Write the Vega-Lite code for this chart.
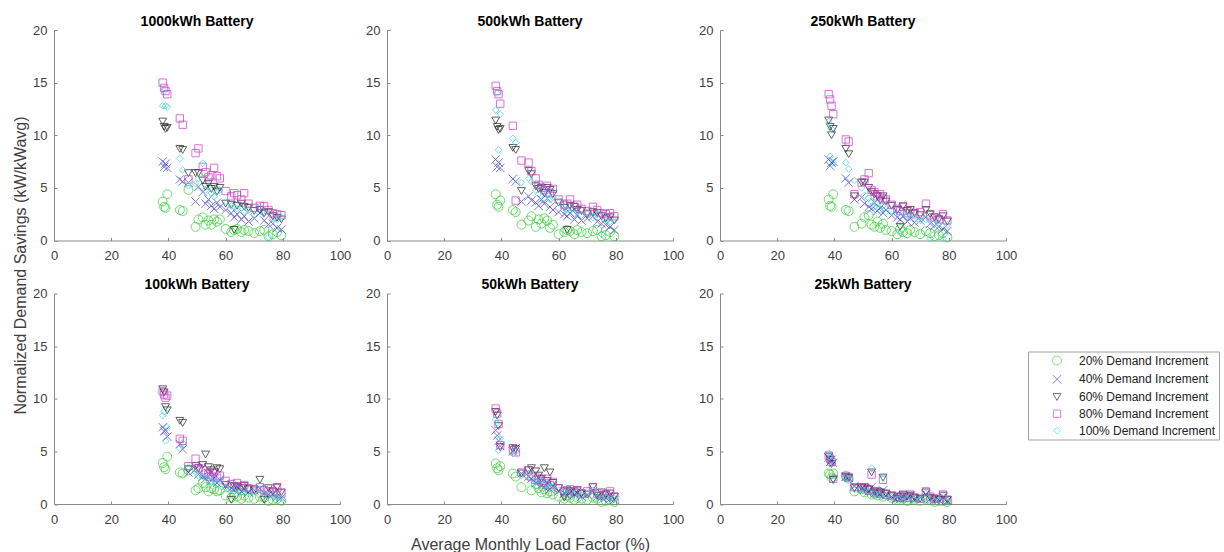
{
"$schema":"https://vega.github.io/schema/vega-lite/v6.json",
"padding":{"left":12,"top":14,"right":0,"bottom":0},
"datasets":{
"p1000":[
{"d":20,"x":38,"y":3.7},{"d":20,"x":38.5,"y":3.2},{"d":20,"x":39,"y":3.1},{"d":20,"x":39.6,"y":4.4},{"d":20,"x":44,"y":2.9},{"d":20,"x":45,"y":2.8},{"d":20,"x":47,"y":4.8},{"d":20,"x":49.5,"y":1.3},{"d":20,"x":50.5,"y":2.0},{"d":20,"x":52,"y":2.2},{"d":20,"x":53,"y":1.5},{"d":20,"x":54,"y":1.9},{"d":20,"x":55,"y":1.5},{"d":20,"x":56,"y":2.0},{"d":20,"x":57,"y":1.8},{"d":20,"x":58,"y":2.0},{"d":20,"x":60,"y":1.1},{"d":20,"x":62,"y":0.8},{"d":20,"x":63,"y":1.0},{"d":20,"x":64,"y":1.1},{"d":20,"x":65.5,"y":0.8},{"d":20,"x":66.5,"y":1.0},{"d":20,"x":68,"y":0.9},{"d":20,"x":70,"y":0.7},{"d":20,"x":72,"y":0.9},{"d":20,"x":73.5,"y":1.0},{"d":20,"x":75,"y":0.4},{"d":20,"x":76.5,"y":0.6},{"d":20,"x":78,"y":0.8},{"d":20,"x":79.5,"y":0.5},
{"d":40,"x":38,"y":7.5},{"d":40,"x":38.5,"y":7.0},{"d":40,"x":39,"y":7.3},{"d":40,"x":39.6,"y":6.9},{"d":40,"x":44,"y":5.8},{"d":40,"x":45,"y":5.6},{"d":40,"x":47,"y":5.5},{"d":40,"x":49.5,"y":3.7},{"d":40,"x":50.5,"y":5.1},{"d":40,"x":52,"y":4.6},{"d":40,"x":53,"y":3.5},{"d":40,"x":54,"y":3.9},{"d":40,"x":55,"y":3.3},{"d":40,"x":56,"y":3.0},{"d":40,"x":57,"y":3.6},{"d":40,"x":58,"y":3.2},{"d":40,"x":60,"y":2.9},{"d":40,"x":62,"y":2.6},{"d":40,"x":63,"y":2.2},{"d":40,"x":64,"y":2.5},{"d":40,"x":65.5,"y":2.0},{"d":40,"x":66.5,"y":2.3},{"d":40,"x":68,"y":1.8},{"d":40,"x":70,"y":2.1},{"d":40,"x":72,"y":2.6},{"d":40,"x":73.5,"y":1.9},{"d":40,"x":75,"y":1.5},{"d":40,"x":76.5,"y":1.6},{"d":40,"x":78,"y":1.2},{"d":40,"x":79.5,"y":1.05},
{"d":60,"x":38,"y":11.3},{"d":60,"x":38.5,"y":10.8},{"d":60,"x":39,"y":10.6},{"d":60,"x":39.6,"y":10.7},{"d":60,"x":44,"y":8.7},{"d":60,"x":45,"y":8.6},{"d":60,"x":47,"y":6.4},{"d":60,"x":49.5,"y":6.4},{"d":60,"x":50.5,"y":6.4},{"d":60,"x":52,"y":5.7},{"d":60,"x":53,"y":5.1},{"d":60,"x":54,"y":5.4},{"d":60,"x":55,"y":4.9},{"d":60,"x":56,"y":5.1},{"d":60,"x":57,"y":4.65},{"d":60,"x":58,"y":5.0},{"d":60,"x":60,"y":3.5},{"d":60,"x":62,"y":3.4},{"d":60,"x":63,"y":1.0},{"d":60,"x":64,"y":3.3},{"d":60,"x":65.5,"y":3.5},{"d":60,"x":66.5,"y":3.2},{"d":60,"x":68,"y":3.1},{"d":60,"x":70,"y":2.8},{"d":60,"x":72,"y":2.9},{"d":60,"x":73.5,"y":2.6},{"d":60,"x":75,"y":2.7},{"d":60,"x":76.5,"y":2.3},{"d":60,"x":78,"y":2.15},{"d":60,"x":79.5,"y":2.0},
{"d":80,"x":38,"y":15.0},{"d":80,"x":38.5,"y":14.5},{"d":80,"x":39,"y":14.2},{"d":80,"x":39.6,"y":13.9},{"d":80,"x":44,"y":11.6},{"d":80,"x":45,"y":11.0},{"d":80,"x":47,"y":5.8},{"d":80,"x":49.5,"y":8.3},{"d":80,"x":50.5,"y":8.75},{"d":80,"x":52,"y":7.0},{"d":80,"x":53,"y":6.5},{"d":80,"x":54,"y":6.0},{"d":80,"x":55,"y":6.2},{"d":80,"x":56,"y":6.9},{"d":80,"x":57,"y":6.1},{"d":80,"x":58,"y":5.9},{"d":80,"x":60,"y":4.7},{"d":80,"x":62,"y":4.2},{"d":80,"x":63,"y":4.5},{"d":80,"x":64,"y":4.3},{"d":80,"x":65.5,"y":3.9},{"d":80,"x":66.5,"y":4.5},{"d":80,"x":68,"y":3.5},{"d":80,"x":70,"y":3.1},{"d":80,"x":72,"y":3.3},{"d":80,"x":73.5,"y":3.25},{"d":80,"x":75,"y":2.9},{"d":80,"x":76.5,"y":2.6},{"d":80,"x":78,"y":2.5},{"d":80,"x":79.5,"y":2.4},
{"d":100,"x":38,"y":12.8},{"d":100,"x":38.5,"y":14.2},{"d":100,"x":39,"y":12.8},{"d":100,"x":39.6,"y":12.7},{"d":100,"x":44,"y":7.8},{"d":100,"x":45,"y":6.7},{"d":100,"x":47,"y":5.2},{"d":100,"x":49.5,"y":5.4},{"d":100,"x":50.5,"y":5.9},{"d":100,"x":52,"y":7.35},{"d":100,"x":53,"y":4.8},{"d":100,"x":54,"y":5.1},{"d":100,"x":55,"y":4.5},{"d":100,"x":56,"y":4.2},{"d":100,"x":57,"y":4.6},{"d":100,"x":58,"y":4.8},{"d":100,"x":60,"y":3.7},{"d":100,"x":62,"y":3.3},{"d":100,"x":63,"y":3.2},{"d":100,"x":64,"y":3.0},{"d":100,"x":65.5,"y":3.1},{"d":100,"x":66.5,"y":2.7},{"d":100,"x":68,"y":2.9},{"d":100,"x":70,"y":2.5},{"d":100,"x":72,"y":3.2},{"d":100,"x":73.5,"y":2.6},{"d":100,"x":75,"y":0.3},{"d":100,"x":76.5,"y":2.1},{"d":100,"x":78,"y":2.0},{"d":100,"x":79.5,"y":2.2}
],
"p500":[
{"d":20,"x":38,"y":4.4},{"d":20,"x":38.5,"y":3.4},{"d":20,"x":39,"y":3.2},{"d":20,"x":39.6,"y":3.8},{"d":20,"x":44,"y":2.9},{"d":20,"x":45,"y":2.7},{"d":20,"x":47,"y":1.5},{"d":20,"x":49.5,"y":1.9},{"d":20,"x":50.5,"y":2.3},{"d":20,"x":52,"y":1.3},{"d":20,"x":53,"y":2.0},{"d":20,"x":54,"y":1.6},{"d":20,"x":55,"y":2.1},{"d":20,"x":56,"y":1.9},{"d":20,"x":57,"y":1.2},{"d":20,"x":58,"y":1.5},{"d":20,"x":60,"y":0.6},{"d":20,"x":62,"y":0.8},{"d":20,"x":63,"y":1.0},{"d":20,"x":64,"y":0.9},{"d":20,"x":65.5,"y":0.6},{"d":20,"x":66.5,"y":1.0},{"d":20,"x":68,"y":0.8},{"d":20,"x":70,"y":0.7},{"d":20,"x":72,"y":0.9},{"d":20,"x":73.5,"y":1.0},{"d":20,"x":75,"y":0.4},{"d":20,"x":76.5,"y":0.5},{"d":20,"x":78,"y":0.8},{"d":20,"x":79.5,"y":0.4},
{"d":40,"x":38,"y":7.7},{"d":40,"x":38.5,"y":7.0},{"d":40,"x":39,"y":7.4},{"d":40,"x":39.6,"y":6.9},{"d":40,"x":44,"y":5.85},{"d":40,"x":45,"y":5.6},{"d":40,"x":47,"y":3.7},{"d":40,"x":49.5,"y":4.2},{"d":40,"x":50.5,"y":3.8},{"d":40,"x":52,"y":3.6},{"d":40,"x":53,"y":3.3},{"d":40,"x":54,"y":3.9},{"d":40,"x":55,"y":3.5},{"d":40,"x":56,"y":4.0},{"d":40,"x":57,"y":3.2},{"d":40,"x":58,"y":2.9},{"d":40,"x":60,"y":2.7},{"d":40,"x":62,"y":2.5},{"d":40,"x":63,"y":2.3},{"d":40,"x":64,"y":2.6},{"d":40,"x":65.5,"y":2.0},{"d":40,"x":66.5,"y":2.4},{"d":40,"x":68,"y":1.9},{"d":40,"x":70,"y":2.1},{"d":40,"x":72,"y":2.3},{"d":40,"x":73.5,"y":1.8},{"d":40,"x":75,"y":1.6},{"d":40,"x":76.5,"y":1.5},{"d":40,"x":78,"y":1.3},{"d":40,"x":79.5,"y":1.0},
{"d":60,"x":38,"y":11.4},{"d":60,"x":38.5,"y":10.8},{"d":60,"x":39,"y":10.5},{"d":60,"x":39.6,"y":10.6},{"d":60,"x":44,"y":8.8},{"d":60,"x":45,"y":8.6},{"d":60,"x":47,"y":4.7},{"d":60,"x":49.5,"y":6.6},{"d":60,"x":50.5,"y":6.3},{"d":60,"x":52,"y":5.15},{"d":60,"x":53,"y":4.9},{"d":60,"x":54,"y":5.0},{"d":60,"x":55,"y":4.5},{"d":60,"x":56,"y":5.0},{"d":60,"x":57,"y":4.8},{"d":60,"x":58,"y":4.4},{"d":60,"x":60,"y":3.6},{"d":60,"x":62,"y":3.1},{"d":60,"x":63,"y":1.0},{"d":60,"x":64,"y":3.3},{"d":60,"x":65.5,"y":3.2},{"d":60,"x":66.5,"y":2.9},{"d":60,"x":68,"y":2.8},{"d":60,"x":70,"y":2.5},{"d":60,"x":72,"y":2.7},{"d":60,"x":73.5,"y":2.6},{"d":60,"x":75,"y":2.3},{"d":60,"x":76.5,"y":2.1},{"d":60,"x":78,"y":2.2},{"d":60,"x":79.5,"y":1.9},
{"d":80,"x":38,"y":14.7},{"d":80,"x":38.5,"y":14.2},{"d":80,"x":39,"y":13.9},{"d":80,"x":39.6,"y":13.0},{"d":80,"x":44,"y":10.9},{"d":80,"x":45,"y":3.8},{"d":80,"x":47,"y":7.6},{"d":80,"x":49.5,"y":7.4},{"d":80,"x":50.5,"y":6.6},{"d":80,"x":52,"y":5.9},{"d":80,"x":53,"y":5.3},{"d":80,"x":54,"y":5.0},{"d":80,"x":55,"y":4.8},{"d":80,"x":56,"y":5.2},{"d":80,"x":57,"y":4.5},{"d":80,"x":58,"y":4.9},{"d":80,"x":60,"y":3.9},{"d":80,"x":62,"y":3.4},{"d":80,"x":63,"y":3.5},{"d":80,"x":64,"y":3.9},{"d":80,"x":65.5,"y":3.2},{"d":80,"x":66.5,"y":3.4},{"d":80,"x":68,"y":3.0},{"d":80,"x":70,"y":2.8},{"d":80,"x":72,"y":3.2},{"d":80,"x":73.5,"y":2.9},{"d":80,"x":75,"y":2.6},{"d":80,"x":76.5,"y":2.5},{"d":80,"x":78,"y":2.6},{"d":80,"x":79.5,"y":2.3},
{"d":100,"x":38,"y":12.4},{"d":100,"x":38.5,"y":14.0},{"d":100,"x":39,"y":8.6},{"d":100,"x":39.6,"y":12.0},{"d":100,"x":44,"y":9.7},{"d":100,"x":45,"y":9.3},{"d":100,"x":47,"y":5.5},{"d":100,"x":49.5,"y":5.9},{"d":100,"x":50.5,"y":5.6},{"d":100,"x":52,"y":4.8},{"d":100,"x":53,"y":4.4},{"d":100,"x":54,"y":5.2},{"d":100,"x":55,"y":4.0},{"d":100,"x":56,"y":4.5},{"d":100,"x":57,"y":3.9},{"d":100,"x":58,"y":4.1},{"d":100,"x":60,"y":3.6},{"d":100,"x":62,"y":3.2},{"d":100,"x":63,"y":2.9},{"d":100,"x":64,"y":3.1},{"d":100,"x":65.5,"y":2.6},{"d":100,"x":66.5,"y":2.8},{"d":100,"x":68,"y":2.4},{"d":100,"x":70,"y":2.7},{"d":100,"x":72,"y":2.2},{"d":100,"x":73.5,"y":2.5},{"d":100,"x":75,"y":0.6},{"d":100,"x":76.5,"y":2.0},{"d":100,"x":78,"y":1.8},{"d":100,"x":79.5,"y":1.9}
],
"p250":[
{"d":20,"x":38,"y":3.9},{"d":20,"x":38.5,"y":3.3},{"d":20,"x":39,"y":3.2},{"d":20,"x":39.6,"y":4.4},{"d":20,"x":44,"y":2.9},{"d":20,"x":45,"y":2.8},{"d":20,"x":47,"y":1.3},{"d":20,"x":49.5,"y":1.6},{"d":20,"x":50.5,"y":2.2},{"d":20,"x":52,"y":2.4},{"d":20,"x":53,"y":1.5},{"d":20,"x":54,"y":1.3},{"d":20,"x":55,"y":1.8},{"d":20,"x":56,"y":1.2},{"d":20,"x":57,"y":1.6},{"d":20,"x":58,"y":1.0},{"d":20,"x":60,"y":0.9},{"d":20,"x":62,"y":0.6},{"d":20,"x":63,"y":1.1},{"d":20,"x":64,"y":0.8},{"d":20,"x":65.5,"y":0.7},{"d":20,"x":66.5,"y":1.0},{"d":20,"x":68,"y":0.8},{"d":20,"x":70,"y":0.6},{"d":20,"x":72,"y":0.9},{"d":20,"x":73.5,"y":0.7},{"d":20,"x":75,"y":0.4},{"d":20,"x":76.5,"y":0.5},{"d":20,"x":78,"y":0.7},{"d":20,"x":79.5,"y":0.3},
{"d":40,"x":38,"y":7.7},{"d":40,"x":38.5,"y":7.1},{"d":40,"x":39,"y":7.4},{"d":40,"x":39.6,"y":7.5},{"d":40,"x":44,"y":5.9},{"d":40,"x":45,"y":5.5},{"d":40,"x":47,"y":3.9},{"d":40,"x":49.5,"y":4.1},{"d":40,"x":50.5,"y":3.5},{"d":40,"x":52,"y":3.2},{"d":40,"x":53,"y":3.0},{"d":40,"x":54,"y":3.6},{"d":40,"x":55,"y":2.8},{"d":40,"x":56,"y":3.1},{"d":40,"x":57,"y":2.6},{"d":40,"x":58,"y":2.9},{"d":40,"x":60,"y":2.4},{"d":40,"x":62,"y":2.2},{"d":40,"x":63,"y":2.0},{"d":40,"x":64,"y":2.3},{"d":40,"x":65.5,"y":1.8},{"d":40,"x":66.5,"y":2.1},{"d":40,"x":68,"y":1.7},{"d":40,"x":70,"y":1.9},{"d":40,"x":72,"y":2.2},{"d":40,"x":73.5,"y":1.6},{"d":40,"x":75,"y":1.4},{"d":40,"x":76.5,"y":1.3},{"d":40,"x":78,"y":1.1},{"d":40,"x":79.5,"y":0.9},
{"d":60,"x":38,"y":11.4},{"d":60,"x":38.5,"y":10.8},{"d":60,"x":39,"y":10.0},{"d":60,"x":39.6,"y":10.6},{"d":60,"x":44,"y":8.7},{"d":60,"x":45,"y":8.2},{"d":60,"x":47,"y":4.2},{"d":60,"x":49.5,"y":5.5},{"d":60,"x":50.5,"y":5.5},{"d":60,"x":52,"y":5.0},{"d":60,"x":53,"y":4.6},{"d":60,"x":54,"y":4.4},{"d":60,"x":55,"y":4.2},{"d":60,"x":56,"y":3.8},{"d":60,"x":57,"y":4.2},{"d":60,"x":58,"y":3.7},{"d":60,"x":60,"y":3.3},{"d":60,"x":62,"y":2.9},{"d":60,"x":63,"y":1.3},{"d":60,"x":64,"y":3.25},{"d":60,"x":65.5,"y":2.8},{"d":60,"x":66.5,"y":2.9},{"d":60,"x":68,"y":2.6},{"d":60,"x":70,"y":2.4},{"d":60,"x":72,"y":2.9},{"d":60,"x":73.5,"y":2.5},{"d":60,"x":75,"y":2.2},{"d":60,"x":76.5,"y":2.0},{"d":60,"x":78,"y":2.3},{"d":60,"x":79.5,"y":1.8},
{"d":80,"x":38,"y":13.9},{"d":80,"x":38.5,"y":13.4},{"d":80,"x":39,"y":12.8},{"d":80,"x":39.6,"y":12.0},{"d":80,"x":44,"y":9.6},{"d":80,"x":45,"y":9.4},{"d":80,"x":47,"y":4.4},{"d":80,"x":49.5,"y":5.5},{"d":80,"x":50.5,"y":5.8},{"d":80,"x":52,"y":6.4},{"d":80,"x":53,"y":4.8},{"d":80,"x":54,"y":4.6},{"d":80,"x":55,"y":4.2},{"d":80,"x":56,"y":4.4},{"d":80,"x":57,"y":4.0},{"d":80,"x":58,"y":3.9},{"d":80,"x":60,"y":3.4},{"d":80,"x":62,"y":3.0},{"d":80,"x":63,"y":2.8},{"d":80,"x":64,"y":3.2},{"d":80,"x":65.5,"y":2.6},{"d":80,"x":66.5,"y":2.9},{"d":80,"x":68,"y":2.5},{"d":80,"x":70,"y":2.7},{"d":80,"x":72,"y":3.5},{"d":80,"x":73.5,"y":2.4},{"d":80,"x":75,"y":2.2},{"d":80,"x":76.5,"y":2.0},{"d":80,"x":78,"y":2.5},{"d":80,"x":79.5,"y":1.9},
{"d":100,"x":38,"y":11.3},{"d":100,"x":38.5,"y":8.0},{"d":100,"x":39,"y":10.6},{"d":100,"x":39.6,"y":7.4},{"d":100,"x":44,"y":7.4},{"d":100,"x":45,"y":6.8},{"d":100,"x":47,"y":5.7},{"d":100,"x":49.5,"y":5.0},{"d":100,"x":50.5,"y":4.3},{"d":100,"x":52,"y":4.0},{"d":100,"x":53,"y":3.7},{"d":100,"x":54,"y":3.2},{"d":100,"x":55,"y":3.5},{"d":100,"x":56,"y":2.9},{"d":100,"x":57,"y":3.3},{"d":100,"x":58,"y":2.7},{"d":100,"x":60,"y":2.8},{"d":100,"x":62,"y":2.5},{"d":100,"x":63,"y":0.7},{"d":100,"x":64,"y":2.6},{"d":100,"x":65.5,"y":2.3},{"d":100,"x":66.5,"y":2.2},{"d":100,"x":68,"y":2.1},{"d":100,"x":70,"y":1.9},{"d":100,"x":72,"y":2.0},{"d":100,"x":73.5,"y":0.2},{"d":100,"x":75,"y":1.7},{"d":100,"x":76.5,"y":1.6},{"d":100,"x":78,"y":0.2},{"d":100,"x":79.5,"y":1.5}
],
"p100":[
{"d":20,"x":38,"y":3.9},{"d":20,"x":38.5,"y":3.5},{"d":20,"x":39,"y":3.3},{"d":20,"x":39.6,"y":4.5},{"d":20,"x":44,"y":3.0},{"d":20,"x":45,"y":2.9},{"d":20,"x":47,"y":3.2},{"d":20,"x":49.5,"y":1.3},{"d":20,"x":50.5,"y":1.5},{"d":20,"x":52,"y":2.0},{"d":20,"x":53,"y":1.6},{"d":20,"x":54,"y":1.2},{"d":20,"x":55,"y":1.5},{"d":20,"x":56,"y":1.4},{"d":20,"x":57,"y":1.2},{"d":20,"x":58,"y":1.3},{"d":20,"x":60,"y":0.8},{"d":20,"x":62,"y":0.6},{"d":20,"x":63,"y":0.9},{"d":20,"x":64,"y":0.7},{"d":20,"x":65.5,"y":0.5},{"d":20,"x":66.5,"y":0.8},{"d":20,"x":68,"y":0.6},{"d":20,"x":70,"y":0.5},{"d":20,"x":72,"y":0.7},{"d":20,"x":73.5,"y":0.6},{"d":20,"x":75,"y":0.3},{"d":20,"x":76.5,"y":0.4},{"d":20,"x":78,"y":0.5},{"d":20,"x":79.5,"y":0.3},
{"d":40,"x":38,"y":7.3},{"d":40,"x":38.5,"y":6.9},{"d":40,"x":39,"y":7.0},{"d":40,"x":39.6,"y":6.4},{"d":40,"x":44,"y":5.7},{"d":40,"x":45,"y":5.2},{"d":40,"x":47,"y":3.0},{"d":40,"x":49.5,"y":3.3},{"d":40,"x":50.5,"y":2.8},{"d":40,"x":52,"y":2.6},{"d":40,"x":53,"y":2.4},{"d":40,"x":54,"y":2.9},{"d":40,"x":55,"y":2.2},{"d":40,"x":56,"y":2.5},{"d":40,"x":57,"y":2.0},{"d":40,"x":58,"y":2.3},{"d":40,"x":60,"y":1.7},{"d":40,"x":62,"y":1.5},{"d":40,"x":63,"y":1.3},{"d":40,"x":64,"y":1.6},{"d":40,"x":65.5,"y":1.2},{"d":40,"x":66.5,"y":1.4},{"d":40,"x":68,"y":1.1},{"d":40,"x":70,"y":1.3},{"d":40,"x":72,"y":1.5},{"d":40,"x":73.5,"y":1.0},{"d":40,"x":75,"y":0.9},{"d":40,"x":76.5,"y":0.9},{"d":40,"x":78,"y":0.7},{"d":40,"x":79.5,"y":0.6},
{"d":60,"x":38,"y":10.9},{"d":60,"x":38.5,"y":10.6},{"d":60,"x":39,"y":9.2},{"d":60,"x":39.6,"y":8.9},{"d":60,"x":44,"y":7.9},{"d":60,"x":45,"y":7.7},{"d":60,"x":47,"y":3.3},{"d":60,"x":49.5,"y":3.6},{"d":60,"x":50.5,"y":3.4},{"d":60,"x":52,"y":3.7},{"d":60,"x":53,"y":4.7},{"d":60,"x":54,"y":3.5},{"d":60,"x":55,"y":3.2},{"d":60,"x":56,"y":3.0},{"d":60,"x":57,"y":3.4},{"d":60,"x":58,"y":3.3},{"d":60,"x":60,"y":1.8},{"d":60,"x":62,"y":0.4},{"d":60,"x":63,"y":1.7},{"d":60,"x":64,"y":1.6},{"d":60,"x":65.5,"y":1.5},{"d":60,"x":66.5,"y":1.7},{"d":60,"x":68,"y":1.4},{"d":60,"x":70,"y":1.3},{"d":60,"x":72,"y":2.3},{"d":60,"x":73.5,"y":0.4},{"d":60,"x":75,"y":1.5},{"d":60,"x":76.5,"y":1.2},{"d":60,"x":78,"y":1.6},{"d":60,"x":79.5,"y":1.1},
{"d":80,"x":38,"y":10.7},{"d":80,"x":38.5,"y":10.4},{"d":80,"x":39,"y":10.1},{"d":80,"x":39.6,"y":10.3},{"d":80,"x":44,"y":6.2},{"d":80,"x":45,"y":6.0},{"d":80,"x":47,"y":3.6},{"d":80,"x":49.5,"y":4.3},{"d":80,"x":50.5,"y":3.4},{"d":80,"x":52,"y":3.2},{"d":80,"x":53,"y":2.9},{"d":80,"x":54,"y":2.8},{"d":80,"x":55,"y":2.6},{"d":80,"x":56,"y":3.0},{"d":80,"x":57,"y":2.5},{"d":80,"x":58,"y":2.7},{"d":80,"x":60,"y":2.2},{"d":80,"x":62,"y":1.9},{"d":80,"x":63,"y":1.6},{"d":80,"x":64,"y":2.0},{"d":80,"x":65.5,"y":1.7},{"d":80,"x":66.5,"y":1.8},{"d":80,"x":68,"y":1.5},{"d":80,"x":70,"y":1.4},{"d":80,"x":72,"y":1.6},{"d":80,"x":73.5,"y":1.3},{"d":80,"x":75,"y":1.2},{"d":80,"x":76.5,"y":1.1},{"d":80,"x":78,"y":1.5},{"d":80,"x":79.5,"y":1.0},
{"d":100,"x":38,"y":8.4},{"d":100,"x":38.5,"y":8.8},{"d":100,"x":39,"y":6.0},{"d":100,"x":39.6,"y":7.3},{"d":100,"x":44,"y":5.3},{"d":100,"x":45,"y":5.8},{"d":100,"x":47,"y":3.5},{"d":100,"x":49.5,"y":3.0},{"d":100,"x":50.5,"y":2.7},{"d":100,"x":52,"y":2.6},{"d":100,"x":53,"y":2.5},{"d":100,"x":54,"y":2.3},{"d":100,"x":55,"y":2.1},{"d":100,"x":56,"y":2.4},{"d":100,"x":57,"y":1.9},{"d":100,"x":58,"y":2.2},{"d":100,"x":60,"y":1.6},{"d":100,"x":62,"y":1.4},{"d":100,"x":63,"y":1.2},{"d":100,"x":64,"y":1.5},{"d":100,"x":65.5,"y":1.1},{"d":100,"x":66.5,"y":1.3},{"d":100,"x":68,"y":1.0},{"d":100,"x":70,"y":1.2},{"d":100,"x":72,"y":1.4},{"d":100,"x":73.5,"y":0.9},{"d":100,"x":75,"y":0.8},{"d":100,"x":76.5,"y":0.8},{"d":100,"x":78,"y":0.6},{"d":100,"x":79.5,"y":0.5}
],
"p50":[
{"d":20,"x":38,"y":3.85},{"d":20,"x":38.5,"y":3.4},{"d":20,"x":39,"y":3.2},{"d":20,"x":39.6,"y":3.6},{"d":20,"x":44,"y":2.9},{"d":20,"x":45,"y":2.6},{"d":20,"x":47,"y":1.6},{"d":20,"x":49.5,"y":2.7},{"d":20,"x":50.5,"y":1.3},{"d":20,"x":52,"y":1.9},{"d":20,"x":53,"y":1.5},{"d":20,"x":54,"y":1.1},{"d":20,"x":55,"y":1.4},{"d":20,"x":56,"y":1.0},{"d":20,"x":57,"y":1.2},{"d":20,"x":58,"y":0.9},{"d":20,"x":60,"y":0.7},{"d":20,"x":62,"y":0.5},{"d":20,"x":63,"y":0.8},{"d":20,"x":64,"y":0.6},{"d":20,"x":65.5,"y":0.4},{"d":20,"x":66.5,"y":0.6},{"d":20,"x":68,"y":0.5},{"d":20,"x":70,"y":0.4},{"d":20,"x":72,"y":0.6},{"d":20,"x":73.5,"y":0.5},{"d":20,"x":75,"y":0.2},{"d":20,"x":76.5,"y":0.3},{"d":20,"x":78,"y":0.4},{"d":20,"x":79.5,"y":0.2},
{"d":40,"x":38,"y":7.0},{"d":40,"x":38.5,"y":6.5},{"d":40,"x":39,"y":6.0},{"d":40,"x":39.6,"y":5.5},{"d":40,"x":44,"y":5.0},{"d":40,"x":45,"y":5.3},{"d":40,"x":47,"y":2.9},{"d":40,"x":49.5,"y":2.6},{"d":40,"x":50.5,"y":2.4},{"d":40,"x":52,"y":2.0},{"d":40,"x":53,"y":2.2},{"d":40,"x":54,"y":1.8},{"d":40,"x":55,"y":1.6},{"d":40,"x":56,"y":2.0},{"d":40,"x":57,"y":1.4},{"d":40,"x":58,"y":1.7},{"d":40,"x":60,"y":1.2},{"d":40,"x":62,"y":1.0},{"d":40,"x":63,"y":0.8},{"d":40,"x":64,"y":1.1},{"d":40,"x":65.5,"y":0.9},{"d":40,"x":66.5,"y":1.0},{"d":40,"x":68,"y":0.7},{"d":40,"x":70,"y":0.9},{"d":40,"x":72,"y":1.2},{"d":40,"x":73.5,"y":0.7},{"d":40,"x":75,"y":0.6},{"d":40,"x":76.5,"y":0.6},{"d":40,"x":78,"y":0.5},{"d":40,"x":79.5,"y":0.4},
{"d":60,"x":38,"y":8.75},{"d":60,"x":38.5,"y":8.4},{"d":60,"x":39,"y":7.4},{"d":60,"x":39.6,"y":5.4},{"d":60,"x":44,"y":5.3},{"d":60,"x":45,"y":5.2},{"d":60,"x":47,"y":2.9},{"d":60,"x":49.5,"y":3.2},{"d":60,"x":50.5,"y":3.4},{"d":60,"x":52,"y":3.1},{"d":60,"x":53,"y":2.7},{"d":60,"x":54,"y":2.4},{"d":60,"x":55,"y":3.4},{"d":60,"x":56,"y":2.2},{"d":60,"x":57,"y":3.0},{"d":60,"x":58,"y":2.0},{"d":60,"x":60,"y":1.5},{"d":60,"x":62,"y":0.6},{"d":60,"x":63,"y":1.3},{"d":60,"x":64,"y":1.2},{"d":60,"x":65.5,"y":1.1},{"d":60,"x":66.5,"y":1.3},{"d":60,"x":68,"y":1.0},{"d":60,"x":70,"y":0.9},{"d":60,"x":72,"y":1.6},{"d":60,"x":73.5,"y":0.8},{"d":60,"x":75,"y":1.1},{"d":60,"x":76.5,"y":0.9},{"d":60,"x":78,"y":1.0},{"d":60,"x":79.5,"y":0.7},
{"d":80,"x":38,"y":9.07},{"d":80,"x":38.5,"y":8.6},{"d":80,"x":39,"y":7.6},{"d":80,"x":39.6,"y":5.6},{"d":80,"x":44,"y":5.1},{"d":80,"x":45,"y":4.9},{"d":80,"x":47,"y":3.0},{"d":80,"x":49.5,"y":3.2},{"d":80,"x":50.5,"y":2.6},{"d":80,"x":52,"y":2.3},{"d":80,"x":53,"y":2.5},{"d":80,"x":54,"y":2.2},{"d":80,"x":55,"y":2.0},{"d":80,"x":56,"y":2.4},{"d":80,"x":57,"y":1.8},{"d":80,"x":58,"y":2.1},{"d":80,"x":60,"y":1.5},{"d":80,"x":62,"y":1.2},{"d":80,"x":63,"y":1.1},{"d":80,"x":64,"y":1.4},{"d":80,"x":65.5,"y":1.2},{"d":80,"x":66.5,"y":1.3},{"d":80,"x":68,"y":1.0},{"d":80,"x":70,"y":1.2},{"d":80,"x":72,"y":1.6},{"d":80,"x":73.5,"y":1.0},{"d":80,"x":75,"y":0.8},{"d":80,"x":76.5,"y":0.9},{"d":80,"x":78,"y":1.2},{"d":80,"x":79.5,"y":0.7},
{"d":100,"x":38,"y":8.0},{"d":100,"x":38.5,"y":7.7},{"d":100,"x":39,"y":5.1},{"d":100,"x":39.6,"y":6.2},{"d":100,"x":44,"y":4.8},{"d":100,"x":45,"y":5.0},{"d":100,"x":47,"y":2.7},{"d":100,"x":49.5,"y":2.9},{"d":100,"x":50.5,"y":2.5},{"d":100,"x":52,"y":2.2},{"d":100,"x":53,"y":2.0},{"d":100,"x":54,"y":2.3},{"d":100,"x":55,"y":1.8},{"d":100,"x":56,"y":1.9},{"d":100,"x":57,"y":1.6},{"d":100,"x":58,"y":1.7},{"d":100,"x":60,"y":1.3},{"d":100,"x":62,"y":1.1},{"d":100,"x":63,"y":1.0},{"d":100,"x":64,"y":1.2},{"d":100,"x":65.5,"y":0.9},{"d":100,"x":66.5,"y":1.1},{"d":100,"x":68,"y":0.8},{"d":100,"x":70,"y":1.0},{"d":100,"x":72,"y":1.3},{"d":100,"x":73.5,"y":0.7},{"d":100,"x":75,"y":0.6},{"d":100,"x":76.5,"y":0.7},{"d":100,"x":78,"y":0.6},{"d":100,"x":79.5,"y":0.5}
],
"p25":[
{"d":20,"x":38,"y":2.9},{"d":20,"x":38.5,"y":2.8},{"d":20,"x":39,"y":2.5},{"d":20,"x":39.6,"y":2.9},{"d":20,"x":44,"y":2.7},{"d":20,"x":45,"y":2.4},{"d":20,"x":47,"y":1.2},{"d":20,"x":49.5,"y":1.4},{"d":20,"x":50.5,"y":1.1},{"d":20,"x":52,"y":1.3},{"d":20,"x":53,"y":0.9},{"d":20,"x":54,"y":1.0},{"d":20,"x":55,"y":0.8},{"d":20,"x":56,"y":1.1},{"d":20,"x":57,"y":0.7},{"d":20,"x":58,"y":0.9},{"d":20,"x":60,"y":0.6},{"d":20,"x":62,"y":0.4},{"d":20,"x":63,"y":0.6},{"d":20,"x":64,"y":0.5},{"d":20,"x":65.5,"y":0.3},{"d":20,"x":66.5,"y":0.5},{"d":20,"x":68,"y":0.4},{"d":20,"x":70,"y":0.3},{"d":20,"x":72,"y":0.5},{"d":20,"x":73.5,"y":0.4},{"d":20,"x":75,"y":0.2},{"d":20,"x":76.5,"y":0.3},{"d":20,"x":78,"y":0.3},{"d":20,"x":79.5,"y":0.2},
{"d":40,"x":38,"y":4.4},{"d":40,"x":38.5,"y":4.0},{"d":40,"x":39,"y":4.2},{"d":40,"x":39.6,"y":3.9},{"d":40,"x":44,"y":2.6},{"d":40,"x":45,"y":2.5},{"d":40,"x":47,"y":1.7},{"d":40,"x":49.5,"y":1.5},{"d":40,"x":50.5,"y":1.4},{"d":40,"x":52,"y":1.2},{"d":40,"x":53,"y":1.6},{"d":40,"x":54,"y":1.0},{"d":40,"x":55,"y":1.1},{"d":40,"x":56,"y":0.9},{"d":40,"x":57,"y":1.3},{"d":40,"x":58,"y":0.8},{"d":40,"x":60,"y":0.7},{"d":40,"x":62,"y":0.6},{"d":40,"x":63,"y":0.5},{"d":40,"x":64,"y":0.7},{"d":40,"x":65.5,"y":0.6},{"d":40,"x":66.5,"y":0.8},{"d":40,"x":68,"y":0.5},{"d":40,"x":70,"y":0.6},{"d":40,"x":72,"y":0.9},{"d":40,"x":73.5,"y":0.5},{"d":40,"x":75,"y":0.4},{"d":40,"x":76.5,"y":0.4},{"d":40,"x":78,"y":0.6},{"d":40,"x":79.5,"y":0.3},
{"d":60,"x":38,"y":4.5},{"d":60,"x":38.5,"y":4.2},{"d":60,"x":39,"y":3.8},{"d":60,"x":39.6,"y":2.3},{"d":60,"x":44,"y":2.6},{"d":60,"x":45,"y":2.5},{"d":60,"x":47,"y":1.5},{"d":60,"x":49.5,"y":1.6},{"d":60,"x":50.5,"y":1.5},{"d":60,"x":52,"y":1.4},{"d":60,"x":53,"y":3.0},{"d":60,"x":54,"y":1.2},{"d":60,"x":55,"y":1.0},{"d":60,"x":56,"y":1.1},{"d":60,"x":57,"y":2.5},{"d":60,"x":58,"y":1.0},{"d":60,"x":60,"y":0.8},{"d":60,"x":62,"y":0.5},{"d":60,"x":63,"y":0.7},{"d":60,"x":64,"y":0.9},{"d":60,"x":65.5,"y":0.7},{"d":60,"x":66.5,"y":0.8},{"d":60,"x":68,"y":0.6},{"d":60,"x":70,"y":0.5},{"d":60,"x":72,"y":1.1},{"d":60,"x":73.5,"y":0.6},{"d":60,"x":75,"y":0.5},{"d":60,"x":76.5,"y":0.4},{"d":60,"x":78,"y":0.8},{"d":60,"x":79.5,"y":0.4},
{"d":80,"x":38,"y":4.6},{"d":80,"x":38.5,"y":4.3},{"d":80,"x":39,"y":4.0},{"d":80,"x":39.6,"y":2.4},{"d":80,"x":44,"y":2.6},{"d":80,"x":45,"y":2.5},{"d":80,"x":47,"y":1.6},{"d":80,"x":49.5,"y":1.5},{"d":80,"x":50.5,"y":1.6},{"d":80,"x":52,"y":1.3},{"d":80,"x":53,"y":2.8},{"d":80,"x":54,"y":1.1},{"d":80,"x":55,"y":1.2},{"d":80,"x":56,"y":1.0},{"d":80,"x":57,"y":2.3},{"d":80,"x":58,"y":0.9},{"d":80,"x":60,"y":0.8},{"d":80,"x":62,"y":0.6},{"d":80,"x":63,"y":0.7},{"d":80,"x":64,"y":0.8},{"d":80,"x":65.5,"y":0.6},{"d":80,"x":66.5,"y":0.9},{"d":80,"x":68,"y":0.6},{"d":80,"x":70,"y":0.5},{"d":80,"x":72,"y":1.2},{"d":80,"x":73.5,"y":0.7},{"d":80,"x":75,"y":0.5},{"d":80,"x":76.5,"y":0.5},{"d":80,"x":78,"y":0.9},{"d":80,"x":79.5,"y":0.4},
{"d":100,"x":38,"y":4.8},{"d":100,"x":38.5,"y":4.4},{"d":100,"x":39,"y":4.1},{"d":100,"x":39.6,"y":2.2},{"d":100,"x":44,"y":2.5},{"d":100,"x":45,"y":2.4},{"d":100,"x":47,"y":1.4},{"d":100,"x":49.5,"y":1.4},{"d":100,"x":50.5,"y":1.3},{"d":100,"x":52,"y":1.2},{"d":100,"x":53,"y":3.4},{"d":100,"x":54,"y":1.0},{"d":100,"x":55,"y":0.9},{"d":100,"x":56,"y":0.8},{"d":100,"x":57,"y":2.6},{"d":100,"x":58,"y":0.8},{"d":100,"x":60,"y":0.6},{"d":100,"x":62,"y":0.5},{"d":100,"x":63,"y":0.6},{"d":100,"x":64,"y":0.7},{"d":100,"x":65.5,"y":0.5},{"d":100,"x":66.5,"y":0.7},{"d":100,"x":68,"y":0.4},{"d":100,"x":70,"y":0.4},{"d":100,"x":72,"y":1.0},{"d":100,"x":73.5,"y":0.5},{"d":100,"x":75,"y":0.3},{"d":100,"x":76.5,"y":0.4},{"d":100,"x":78,"y":0.7},{"d":100,"x":79.5,"y":0.3}
]
},
"columns":3,
"spacing":{"row":52.5,"column":47},
"bounds":"flush",
"resolve":{"scale":{"color":"shared","shape":"shared","size":"shared"},"legend":{"color":"shared","shape":"shared"}},
"concat":[
{"title":"1000kWh Battery","width":286,"height":210.5,"data":{"name":"p1000"},"mark":{"type":"point","filled":false,"strokeWidth":1},
"encoding":{"x":{"field":"x","type":"quantitative","scale":{"domain":[0,100]},"axis":{"values":[0,20,40,60,80,100],"title":null}},
"y":{"field":"y","type":"quantitative","scale":{"domain":[0,20]},"axis":{"values":[0,5,10,15,20],"title":"Normalized Demand Savings (kW/kWavg)","titleX":-34,"titleY":235,"titleBaseline":"middle"}},
"color":{"field":"d","type":"nominal","scale":{"domain":[20,40,60,80,100],"range":["#2bd12b","#4242d4","#1e1e1e","#c837c8","#2fd9d9"]},"legend":{"title":null,"orient":"none","legendX":974,"legendY":321.5,"labelExpr":"datum.label + '% Demand Increment'"}},
"shape":{"field":"d","type":"nominal","scale":{"domain":[20,40,60,80,100],"range":["circle","M-1,-1L1,1M1,-1L-1,1","triangle-down","square","diamond"]},"legend":{"title":null,"orient":"none","legendX":974,"legendY":321.5,"labelExpr":"datum.label + '% Demand Increment'"}},
"size":{"field":"d","type":"ordinal","scale":{"domain":[20,40,60,80,100],"range":[80,45,85,55,70]},"legend":null}}},
{"title":"500kWh Battery","width":286,"height":210.5,"data":{"name":"p500"},"mark":{"type":"point","filled":false,"strokeWidth":1},
"encoding":{"x":{"field":"x","type":"quantitative","scale":{"domain":[0,100]},"axis":{"values":[0,20,40,60,80,100],"title":null}},
"y":{"field":"y","type":"quantitative","scale":{"domain":[0,20]},"axis":{"values":[0,5,10,15,20],"title":null}},
"color":{"field":"d","type":"nominal","scale":{"domain":[20,40,60,80,100],"range":["#2bd12b","#4242d4","#1e1e1e","#c837c8","#2fd9d9"]},"legend":{"title":null,"orient":"none","legendX":974,"legendY":321.5,"labelExpr":"datum.label + '% Demand Increment'"}},
"shape":{"field":"d","type":"nominal","scale":{"domain":[20,40,60,80,100],"range":["circle","M-1,-1L1,1M1,-1L-1,1","triangle-down","square","diamond"]},"legend":{"title":null,"orient":"none","legendX":974,"legendY":321.5,"labelExpr":"datum.label + '% Demand Increment'"}},
"size":{"field":"d","type":"ordinal","scale":{"domain":[20,40,60,80,100],"range":[80,45,85,55,70]},"legend":null}}},
{"title":"250kWh Battery","width":286,"height":210.5,"data":{"name":"p250"},"mark":{"type":"point","filled":false,"strokeWidth":1},
"encoding":{"x":{"field":"x","type":"quantitative","scale":{"domain":[0,100]},"axis":{"values":[0,20,40,60,80,100],"title":null}},
"y":{"field":"y","type":"quantitative","scale":{"domain":[0,20]},"axis":{"values":[0,5,10,15,20],"title":null}},
"color":{"field":"d","type":"nominal","scale":{"domain":[20,40,60,80,100],"range":["#2bd12b","#4242d4","#1e1e1e","#c837c8","#2fd9d9"]},"legend":{"title":null,"orient":"none","legendX":974,"legendY":321.5,"labelExpr":"datum.label + '% Demand Increment'"}},
"shape":{"field":"d","type":"nominal","scale":{"domain":[20,40,60,80,100],"range":["circle","M-1,-1L1,1M1,-1L-1,1","triangle-down","square","diamond"]},"legend":{"title":null,"orient":"none","legendX":974,"legendY":321.5,"labelExpr":"datum.label + '% Demand Increment'"}},
"size":{"field":"d","type":"ordinal","scale":{"domain":[20,40,60,80,100],"range":[80,45,85,55,70]},"legend":null}}},
{"title":"100kWh Battery","width":286,"height":210.5,"data":{"name":"p100"},"mark":{"type":"point","filled":false,"strokeWidth":1},
"encoding":{"x":{"field":"x","type":"quantitative","scale":{"domain":[0,100]},"axis":{"values":[0,20,40,60,80,100],"title":null}},
"y":{"field":"y","type":"quantitative","scale":{"domain":[0,20]},"axis":{"values":[0,5,10,15,20],"title":null}},
"color":{"field":"d","type":"nominal","scale":{"domain":[20,40,60,80,100],"range":["#2bd12b","#4242d4","#1e1e1e","#c837c8","#2fd9d9"]},"legend":{"title":null,"orient":"none","legendX":974,"legendY":321.5,"labelExpr":"datum.label + '% Demand Increment'"}},
"shape":{"field":"d","type":"nominal","scale":{"domain":[20,40,60,80,100],"range":["circle","M-1,-1L1,1M1,-1L-1,1","triangle-down","square","diamond"]},"legend":{"title":null,"orient":"none","legendX":974,"legendY":321.5,"labelExpr":"datum.label + '% Demand Increment'"}},
"size":{"field":"d","type":"ordinal","scale":{"domain":[20,40,60,80,100],"range":[80,45,85,55,70]},"legend":null}}},
{"title":"50kWh Battery","width":286,"height":210.5,"data":{"name":"p50"},"mark":{"type":"point","filled":false,"strokeWidth":1},
"encoding":{"x":{"field":"x","type":"quantitative","scale":{"domain":[0,100]},"axis":{"values":[0,20,40,60,80,100],"title":"Average Monthly Load Factor (%)","titleY":40,"titleBaseline":"middle"}},
"y":{"field":"y","type":"quantitative","scale":{"domain":[0,20]},"axis":{"values":[0,5,10,15,20],"title":null}},
"color":{"field":"d","type":"nominal","scale":{"domain":[20,40,60,80,100],"range":["#2bd12b","#4242d4","#1e1e1e","#c837c8","#2fd9d9"]},"legend":{"title":null,"orient":"none","legendX":974,"legendY":321.5,"labelExpr":"datum.label + '% Demand Increment'"}},
"shape":{"field":"d","type":"nominal","scale":{"domain":[20,40,60,80,100],"range":["circle","M-1,-1L1,1M1,-1L-1,1","triangle-down","square","diamond"]},"legend":{"title":null,"orient":"none","legendX":974,"legendY":321.5,"labelExpr":"datum.label + '% Demand Increment'"}},
"size":{"field":"d","type":"ordinal","scale":{"domain":[20,40,60,80,100],"range":[80,45,85,55,70]},"legend":null}}},
{"title":"25kWh Battery","width":286,"height":210.5,"data":{"name":"p25"},"mark":{"type":"point","filled":false,"strokeWidth":1},
"encoding":{"x":{"field":"x","type":"quantitative","scale":{"domain":[0,100]},"axis":{"values":[0,20,40,60,80,100],"title":null}},
"y":{"field":"y","type":"quantitative","scale":{"domain":[0,20]},"axis":{"values":[0,5,10,15,20],"title":null}},
"color":{"field":"d","type":"nominal","scale":{"domain":[20,40,60,80,100],"range":["#2bd12b","#4242d4","#1e1e1e","#c837c8","#2fd9d9"]},"legend":{"title":null,"orient":"none","legendX":974,"legendY":321.5,"labelExpr":"datum.label + '% Demand Increment'"}},
"shape":{"field":"d","type":"nominal","scale":{"domain":[20,40,60,80,100],"range":["circle","M-1,-1L1,1M1,-1L-1,1","triangle-down","square","diamond"]},"legend":{"title":null,"orient":"none","legendX":974,"legendY":321.5,"labelExpr":"datum.label + '% Demand Increment'"}},
"size":{"field":"d","type":"ordinal","scale":{"domain":[20,40,60,80,100],"range":[80,45,85,55,70]},"legend":null}}}
],
"config":{
"view":{"stroke":null},
"font":"Liberation Sans",
"title":{"fontSize":14,"fontWeight":"bold","color":"#000000","frame":"group","offset":-4.5,"anchor":"middle"},
"axis":{"grid":false,"domainColor":"#8a8a8a","tickColor":"#8a8a8a","tickSize":-3,"labelFontSize":13,"labelColor":"#404040","labelFlush":false,"labelOverlap":false,"titleFontSize":16,"titleFontWeight":"normal","titleColor":"#404040"},
"axisX":{"labelPadding":12.4},
"axisY":{"labelPadding":10},
"legend":{"strokeColor":"#a0a0a0","fillColor":"#ffffff","padding":3,"labelFontSize":12,"labelColor":"#222222","symbolSize":40,"symbolStrokeWidth":0.9,"rowPadding":4.75,"labelOffset":16,"symbolOffset":20,"labelLimit":300}
}
}
